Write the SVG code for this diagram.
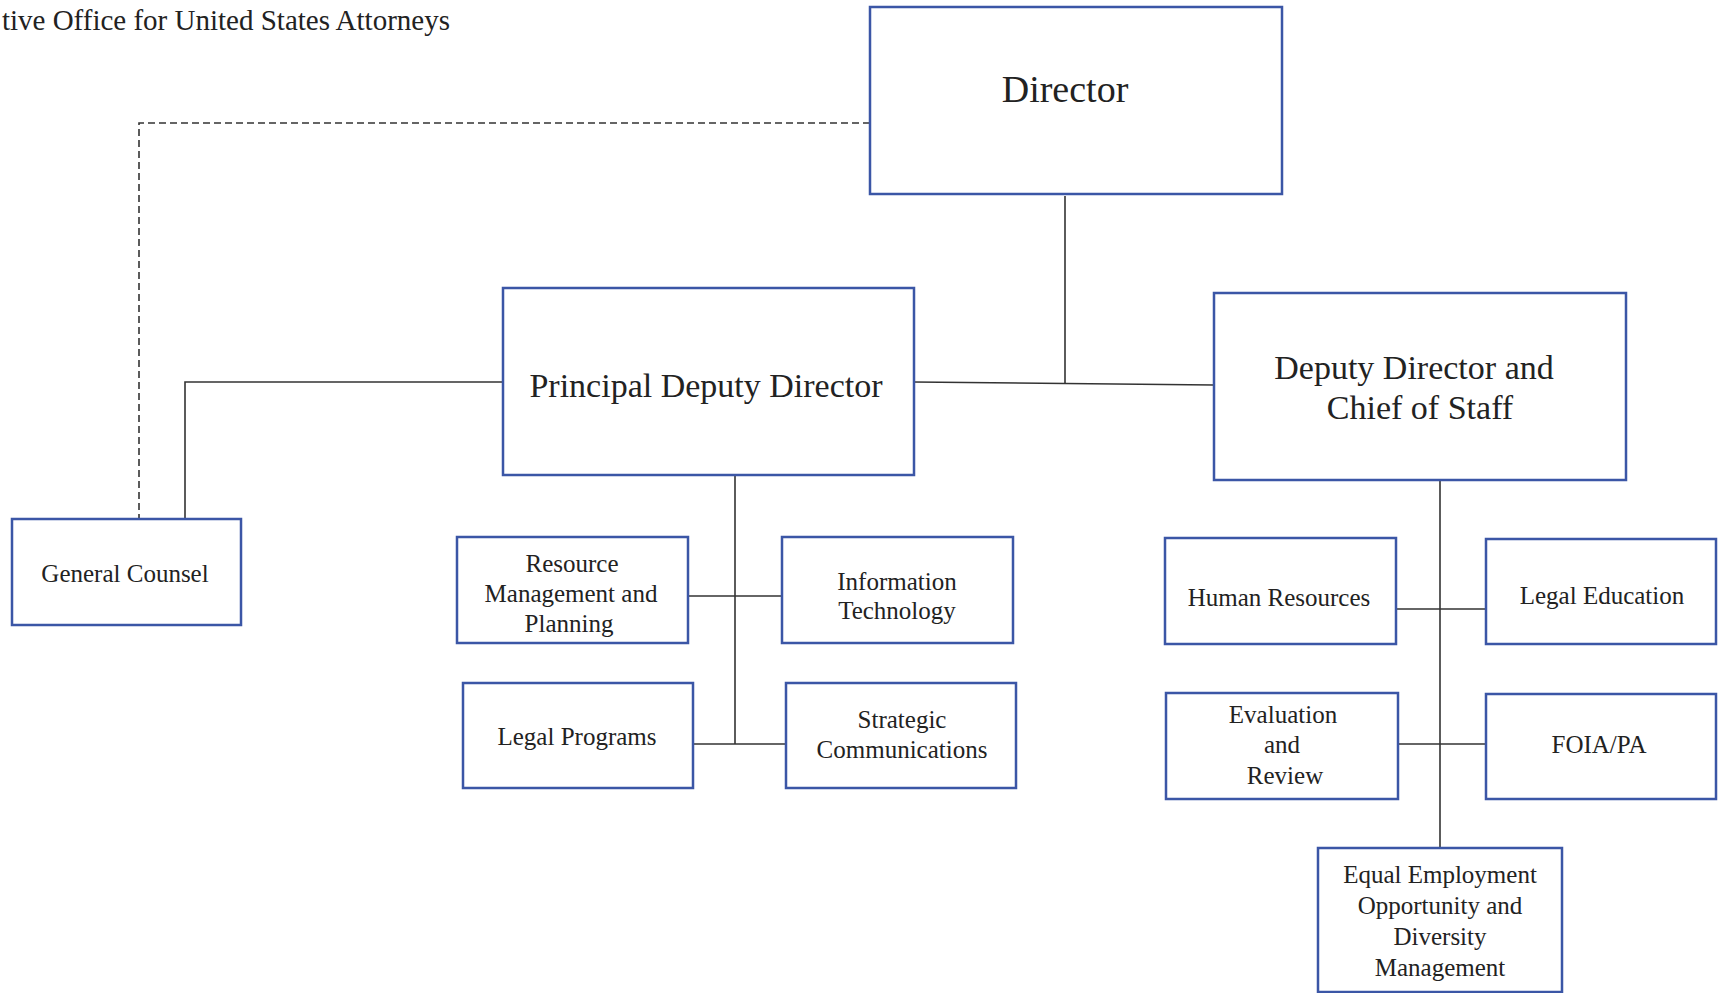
<svg xmlns="http://www.w3.org/2000/svg" width="1722" height="993" viewBox="0 0 1722 993">
<style>
.box{fill:#fff;stroke:#3b56a6;stroke-width:2.5}
.t{font-family:"Liberation Serif","Times New Roman",serif;fill:#222;text-anchor:middle}
.s{font-size:25px}
.c{fill:none;stroke:#333;stroke-width:1.6}
.d{fill:none;stroke:#333;stroke-width:1.6;stroke-dasharray:7 4}
</style>
<rect width="1722" height="993" fill="#fff"/>
<text class="t" x="450" y="30" style="text-anchor:end;font-size:29px">tive Office for United States Attorneys</text>
<g id="connectors">
<path class="d" d="M870,123 H139 V518"/>
<path class="c" d="M503,382 H185 V519"/>
<path class="c" d="M1065,196 V383"/>
<path class="c" d="M914,382 L1214,385"/>
<path class="c" d="M735,476 V744"/>
<path class="c" d="M688,596 H782"/>
<path class="c" d="M693,744 H786"/>
<path class="c" d="M1440,481 V848"/>
<path class="c" d="M1396,609 H1486"/>
<path class="c" d="M1398,744 H1486"/>
</g>
<g id="director">
<rect class="box" x="870" y="7" width="412" height="187"/>
<text class="t" x="1065" y="102" style="font-size:38px">Director</text>
</g>
<g id="principal-deputy-director">
<rect class="box" x="503" y="288" width="411" height="187"/>
<text class="t" x="706" y="397" style="font-size:34px">Principal Deputy Director</text>
</g>
<g id="deputy-director">
<rect class="box" x="1214" y="293" width="412" height="187"/>
<text class="t" x="1414" y="379" style="font-size:34px">Deputy Director and</text>
<text class="t" x="1420" y="419" style="font-size:34px">Chief of Staff</text>
</g>
<g id="general-counsel">
<rect class="box" x="12" y="519" width="229" height="106"/>
<text class="t s" x="125" y="582">General Counsel</text>
</g>
<g id="resource-management">
<rect class="box" x="457" y="537" width="231" height="106"/>
<text class="t s" x="572" y="572">Resource</text>
<text class="t s" x="571" y="602">Management and</text>
<text class="t s" x="569" y="632">Planning</text>
</g>
<g id="information-technology">
<rect class="box" x="782" y="537" width="231" height="106"/>
<text class="t s" x="897" y="590">Information</text>
<text class="t s" x="897" y="619">Technology</text>
</g>
<g id="legal-programs">
<rect class="box" x="463" y="683" width="230" height="105"/>
<text class="t s" x="577" y="745">Legal Programs</text>
</g>
<g id="strategic-communications">
<rect class="box" x="786" y="683" width="230" height="105"/>
<text class="t s" x="902" y="728">Strategic</text>
<text class="t s" x="902" y="758">Communications</text>
</g>
<g id="human-resources">
<rect class="box" x="1165" y="538" width="231" height="106"/>
<text class="t s" x="1279" y="606">Human Resources</text>
</g>
<g id="legal-education">
<rect class="box" x="1486" y="539" width="230" height="105"/>
<text class="t s" x="1602" y="604">Legal Education</text>
</g>
<g id="evaluation-review">
<rect class="box" x="1166" y="693" width="232" height="106"/>
<text class="t s" x="1283" y="723">Evaluation</text>
<text class="t s" x="1282" y="753">and</text>
<text class="t s" x="1285" y="784">Review</text>
</g>
<g id="foia-pa">
<rect class="box" x="1486" y="694" width="230" height="105"/>
<text class="t s" x="1599" y="753">FOIA/PA</text>
</g>
<g id="eeo">
<rect class="box" x="1318" y="848" width="244" height="144"/>
<text class="t s" x="1440" y="883">Equal Employment</text>
<text class="t s" x="1440" y="914">Opportunity and</text>
<text class="t s" x="1440" y="945">Diversity</text>
<text class="t s" x="1440" y="976">Management</text>
</g>
</svg>
